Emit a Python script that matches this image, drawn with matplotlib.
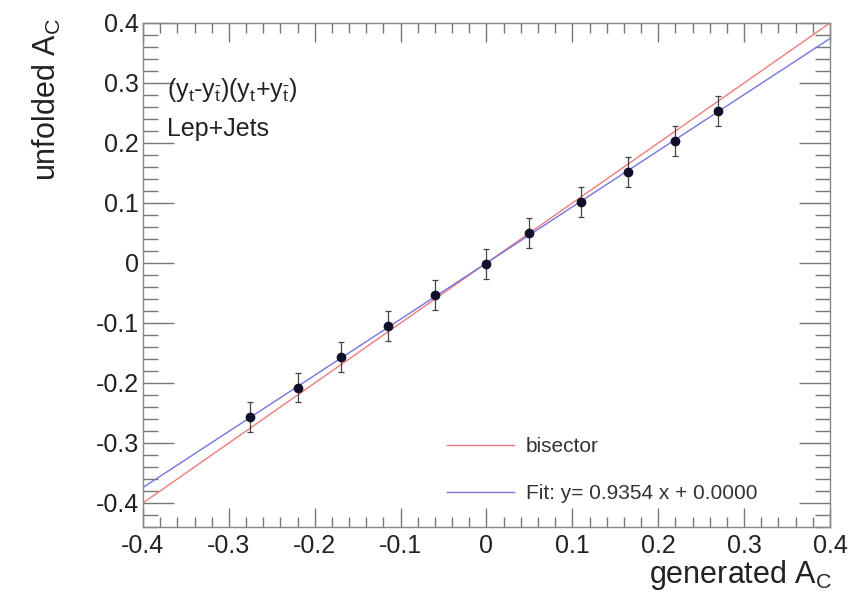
import numpy as np
import matplotlib
matplotlib.use("Agg")
import matplotlib.pyplot as plt
from matplotlib.ticker import MultipleLocator, FuncFormatter

plt.rcParams['font.family'] = ['Liberation Sans', 'DejaVu Sans']
plt.rcParams['mathtext.fontset'] = 'custom'
plt.rcParams['mathtext.rm'] = 'Liberation Sans'
plt.rcParams['mathtext.it'] = 'Liberation Sans'

# generated vs unfolded asymmetry points
gen_ac = [-0.275, -0.22, -0.17, -0.115, -0.06, 0.0, 0.05, 0.11, 0.165, 0.22, 0.27]
unf_ac = [-0.257, -0.208, -0.157, -0.105, -0.053, -0.002, 0.050, 0.101, 0.152, 0.203, 0.253]
unf_err = [0.025, 0.024, 0.025, 0.025, 0.025, 0.025, 0.025, 0.025, 0.025, 0.025, 0.025]

fit_slope = 0.9354
fit_offset = 0.0
line_x = [-0.4, 0.4]

fig = plt.figure(figsize=(8.53, 6.0), dpi=100)
ax = fig.add_axes([143/853, 1-527/600, (830-143)/853, (527-23)/600])

# bisector and fit lines
ax.plot(line_x, line_x, color="#ee7c7c", lw=1.0, label="bisector")
ax.plot(line_x, [fit_slope*v + fit_offset for v in line_x], color="#7474e0", lw=1.0,
        label="Fit: y= %.4f x + %.4f" % (fit_slope, fit_offset))

ax.errorbar(gen_ac, unf_ac, yerr=unf_err, fmt="o", color="#10102a", ms=6,
            ecolor="#444444", elinewidth=0.9, capsize=2.5, capthick=0.9)

ax.set_xlim(-0.4, 0.4)
ax.set_ylim(-0.44, 0.4)
fmt = FuncFormatter(lambda v, p: "%g" % round(v, 2))
ax.xaxis.set_major_locator(MultipleLocator(0.1))
ax.xaxis.set_minor_locator(MultipleLocator(0.02))
ax.yaxis.set_major_locator(MultipleLocator(0.1))
ax.yaxis.set_minor_locator(MultipleLocator(0.02))
ax.xaxis.set_major_formatter(fmt)
ax.yaxis.set_major_formatter(fmt)

ax.tick_params(which="both", direction="in", top=True, right=True, color="#777777",
               labelsize=18, labelcolor="#222222", width=1.0)
ax.tick_params(axis="x", which="major", length=14, pad=5)
ax.tick_params(axis="x", which="minor", length=7)
ax.tick_params(axis="y", which="major", length=22, pad=3)
ax.tick_params(axis="y", which="minor", length=11)
for s in ax.spines.values():
    s.set_color("#888888")
    s.set_linewidth(1.0)

ax.text(0.035, 0.867, r"(y$_{\mathrm{t}}$-y$_{\bar{\mathrm{t}}}$)(y$_{\mathrm{t}}$+y$_{\bar{\mathrm{t}}}$)",
        transform=ax.transAxes, fontsize=18, color="#222222", va="center")
ax.text(0.035, 0.79, "Lep+Jets", transform=ax.transAxes, fontsize=18, color="#222222", va="center")

leg = ax.legend(loc="lower left", bbox_to_anchor=(0.415, 0.01), frameon=False, fontsize=15,
                handlelength=3.2, labelspacing=1.35, handletextpad=0.6)
for t in leg.get_texts():
    t.set_color("#333333")

fig.text(47/853, 1-18/600, r"unfolded A$_{\mathrm{C}}$", rotation=90, ha="center", va="top",
         fontsize=22, color="#222222")
fig.text(832/853, 1-558/600, r"generated A$_{\mathrm{C}}$", ha="right", va="top",
         fontsize=22, color="#222222")

fig.savefig("out.png", dpi=100)
